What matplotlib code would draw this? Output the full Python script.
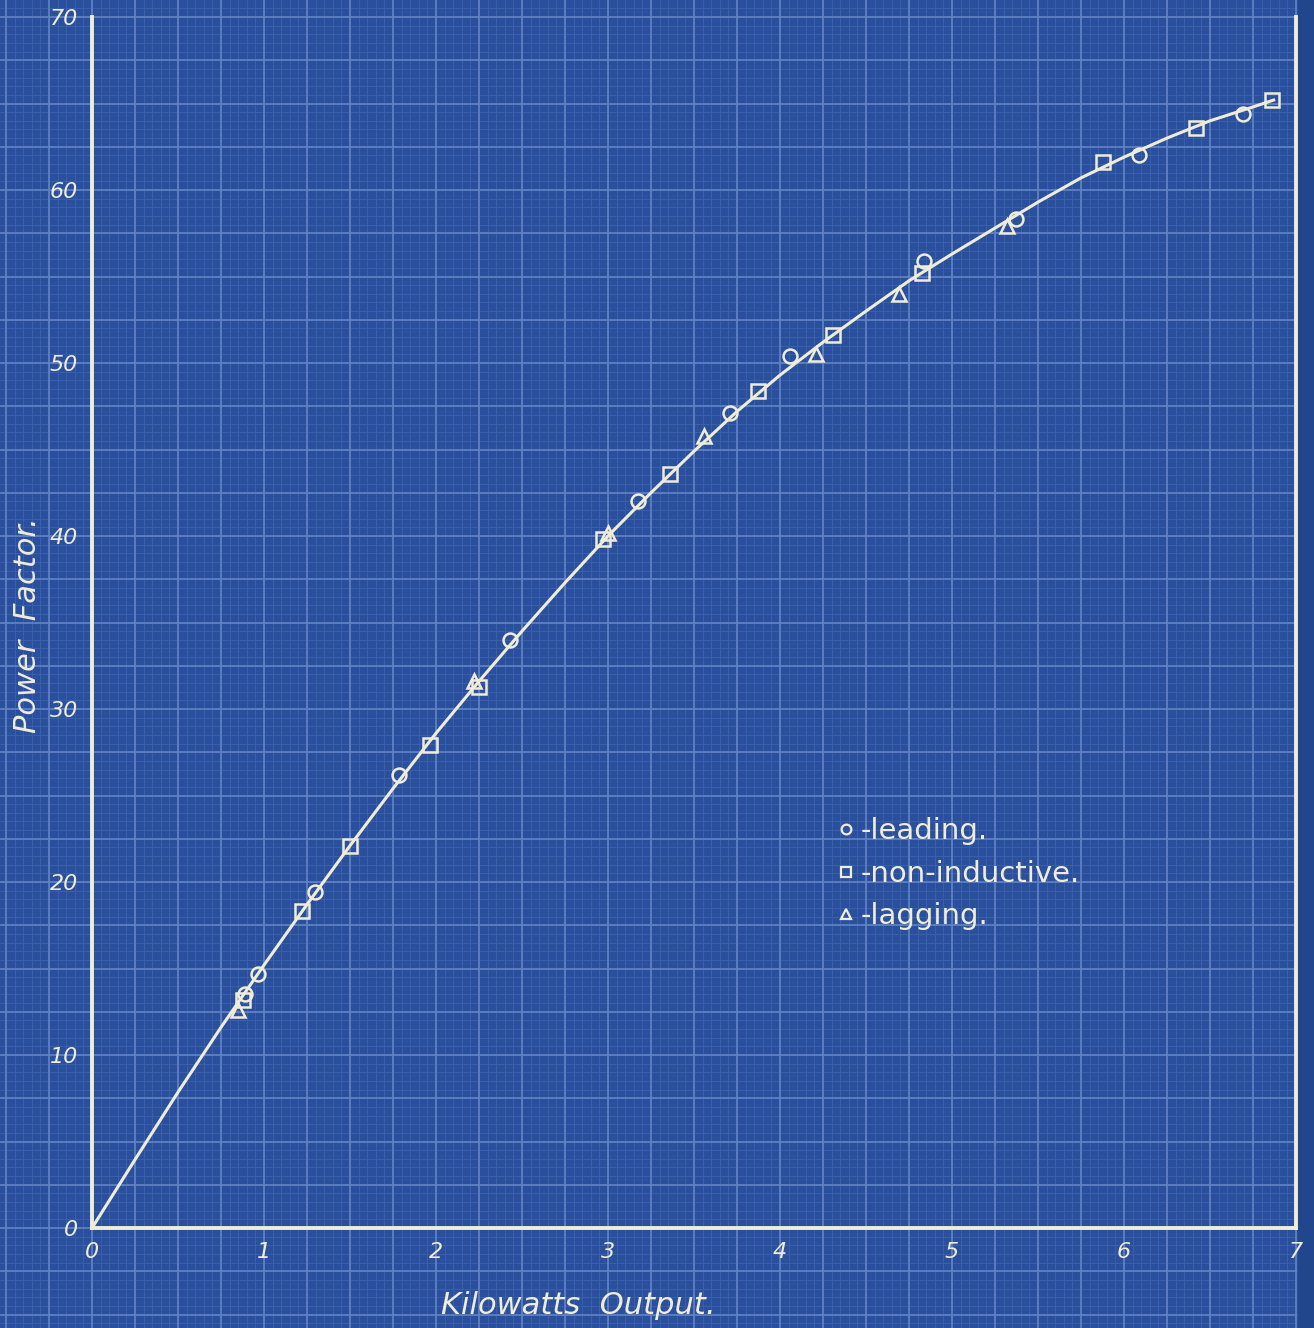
import matplotlib
matplotlib.use("Agg")
import matplotlib.pyplot as plt
from matplotlib.lines import Line2D
import numpy as np

# ---- data ----
curve_x = [0, 0.25, 0.5, 0.75, 1.0, 1.25, 1.5, 1.75, 2.0, 2.25, 2.5, 2.75, 3.0, 3.25,
           3.5, 3.75, 4.0, 4.25, 4.5, 4.75, 5.0, 5.25, 5.5, 5.75, 6.0, 6.25, 6.5, 6.75, 6.87]
curve_y = [0, 3.95, 7.85, 11.6, 15.2, 18.7, 22.1, 25.4, 28.6, 31.6, 34.5, 37.3, 40.0, 42.5,
           44.9, 47.2, 49.3, 51.2, 53.0, 54.75, 56.3, 57.8, 59.3, 60.7, 61.9, 63.0, 64.0, 64.8, 65.2]

leading_x = [0.89, 0.965, 1.297, 1.785, 2.43, 3.174, 3.709, 4.058, 4.837, 5.37, 6.087, 6.69]
leading_y = [13.5, 14.7, 19.4, 26.2, 34.0, 42.0, 47.1, 50.4, 55.9, 58.3, 62.0, 64.4]

noninductive_x = [0.88, 1.22, 1.5, 1.965, 2.25, 2.97, 3.36, 3.87, 4.31, 4.826, 5.88, 6.42, 6.86]
noninductive_y = [13.2, 18.3, 22.1, 27.9, 31.3, 39.8, 43.6, 48.4, 51.6, 55.2, 61.6, 63.6, 65.2]

lagging_x = [0.85, 2.22, 3.0, 3.56, 4.21, 4.69, 5.32]
lagging_y = [12.6, 31.6, 40.2, 45.8, 50.5, 54.0, 57.9]

x_ticks = [0, 1, 2, 3, 4, 5, 6, 7]
y_ticks = [0, 10, 20, 30, 40, 50, 60, 70]
legend_labels = ["-leading.", "-non-inductive.", "-lagging."]

# ---- style ----
PAPER = "#2a4f9d"
EDGE = "#22468c"
MINOR = "#3b60ab"
MAJOR = "#6284c4"
CREAM = "#efedd8"

W, H = 1314, 1328
fig = plt.figure(figsize=(W / 100, H / 100), dpi=100)
fig.patch.set_facecolor(EDGE)

# pixel mapping: x=0 -> 92px, x=7 -> 1296px ; y=0 -> 1228px, y=70 -> 17px
px_x = (1296 - 92) / 7.0
px_y = (1228 - 17) / 70.0
bx0 = -92 / px_x
bx1 = (W - 92) / px_x
by0 = -(H - 1228) / px_y
by1 = 70 + 17 / px_y

bg = fig.add_axes([0, 0, 1, 1])
bg.set_xlim(bx0, bx1)
bg.set_ylim(by0, by1)
bg.axis("off")
gx_end = 7.006
bg.fill_between([bx0, gx_end], by0, by1, color=PAPER, zorder=0)
# grid paper: minor every 0.05 kW / 0.5, major every 0.25 kW / 2.5
xs_minor = np.arange(-0.5, gx_end + 1e-6, 0.05)
ys_minor = np.arange(-5.5, by1, 0.5)
bg.vlines(xs_minor, by0, by1, color=MINOR, lw=0.7, zorder=1)
bg.hlines(ys_minor, bx0, gx_end, color=MINOR, lw=0.7, zorder=1)
xs_major = np.arange(-0.5, gx_end + 1e-6, 0.25)
ys_major = np.arange(-5.0, by1, 2.5)
bg.vlines(xs_major, by0, by1, color=MAJOR, lw=1.2, zorder=2)
bg.hlines(ys_major, bx0, gx_end, color=MAJOR, lw=1.2, zorder=2)

# ---- main axes ----
ax = fig.add_axes([92 / W, (H - 1228) / H, (1296 - 92) / W, (1228 - 17) / H])
ax.set_facecolor("none")
ax.set_xlim(0, 7)
ax.set_ylim(0, 70)
for s in ["left", "bottom", "right"]:
    ax.spines[s].set_color(CREAM)
    ax.spines[s].set_linewidth(2.8)
ax.spines["top"].set_visible(False)
ax.set_xticks(x_ticks)
ax.set_yticks(y_ticks)
ax.set_xticklabels([str(v) for v in x_ticks], fontstyle="italic", fontsize=16, color=CREAM)
ax.set_yticklabels([str(v) for v in y_ticks], fontstyle="italic", fontsize=16, color=CREAM)
ax.tick_params(length=0, pad=10)

ax.plot(curve_x, curve_y, color=CREAM, lw=2.2, zorder=3, clip_on=False)
mk = dict(linestyle="none", markerfacecolor="none", markeredgecolor=CREAM,
          markeredgewidth=1.8, markersize=10, zorder=4, clip_on=False)
ax.plot(leading_x, leading_y, marker="o", **mk)
ax.plot(noninductive_x, noninductive_y, marker="s", **mk)
ax.plot(lagging_x, lagging_y, marker="^", **mk)

fig.text(578 / W, 1 - 1305 / H, "Kilowatts  Output.", fontstyle="italic", fontsize=22,
         color=CREAM, ha="center", va="center")
fig.text(28 / W, 1 - 625 / H, "Power  Factor.", fontstyle="italic", fontsize=22,
         color=CREAM, ha="center", va="center", rotation=90)

handles = [
    Line2D([], [], marker="o", linestyle="none", markerfacecolor="none",
           markeredgecolor=CREAM, markeredgewidth=1.6, markersize=7),
    Line2D([], [], marker="s", linestyle="none", markerfacecolor="none",
           markeredgecolor=CREAM, markeredgewidth=1.6, markersize=7),
    Line2D([], [], marker="^", linestyle="none", markerfacecolor="none",
           markeredgecolor=CREAM, markeredgewidth=1.6, markersize=7),
]
leg = fig.legend(handles, legend_labels, loc="upper left",
                 bbox_to_anchor=(812 / W, (H - 791) / H), frameon=False,
                 handlelength=0.5, handletextpad=0.25, labelspacing=0.5,
                 prop={"size": 21})
for t in leg.get_texts():
    t.set_color(CREAM)

fig.savefig("out.png", dpi=100, facecolor=fig.get_facecolor())
